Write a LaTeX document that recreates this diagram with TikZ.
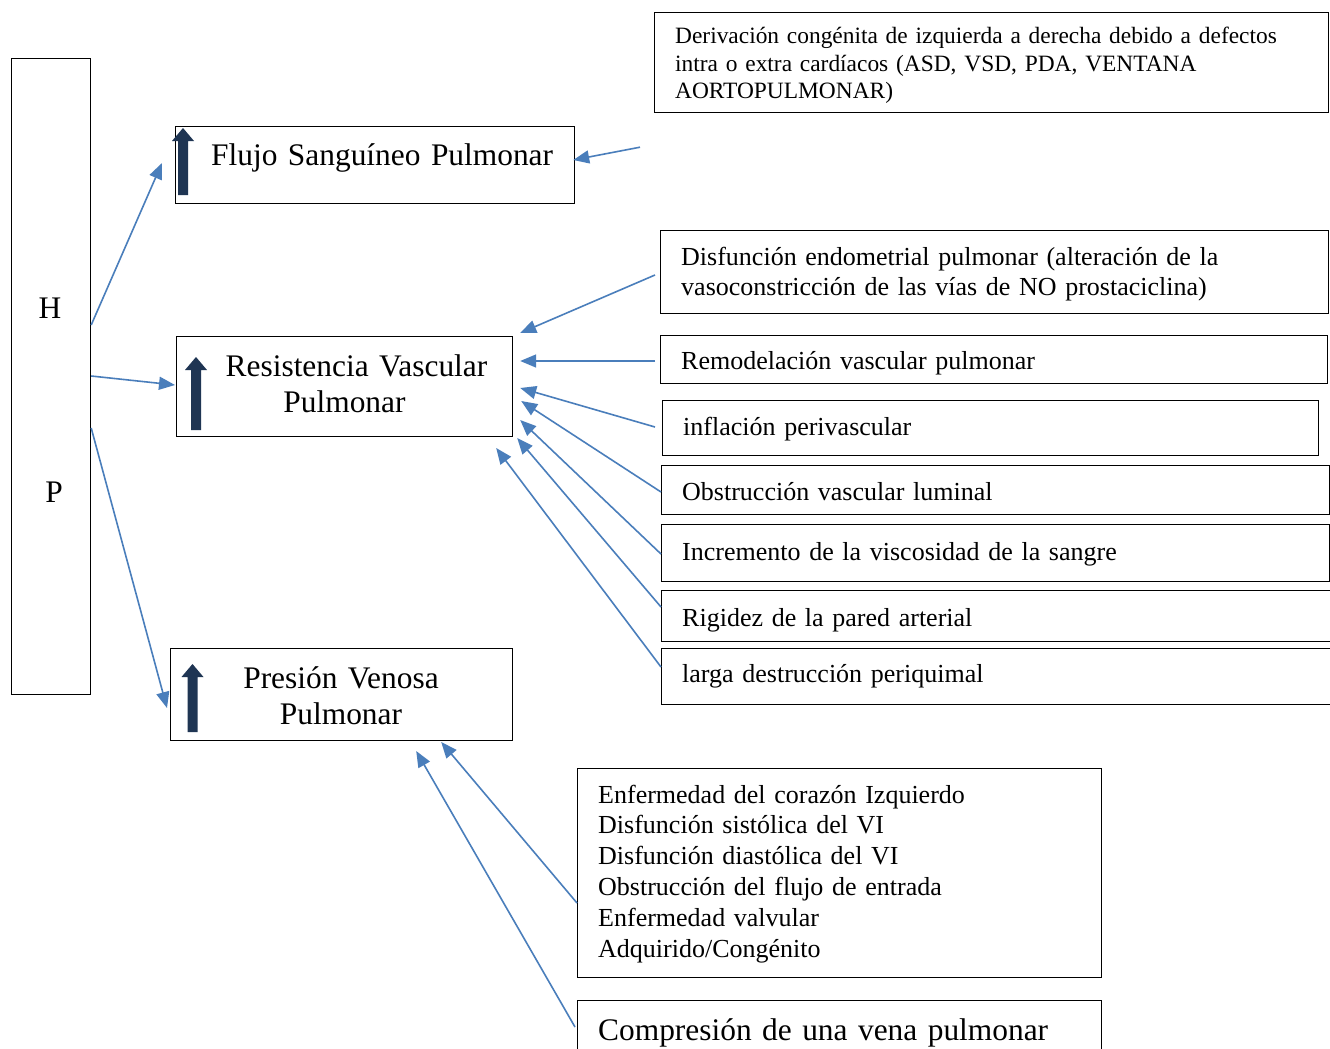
\documentclass[tikz,border=0pt]{standalone}
\usepackage{fontspec}
\setmainfont{Liberation Serif}
\usetikzlibrary{arrows.meta,calc}
\definecolor{conblue}{HTML}{4A7EBB}
\definecolor{navyarr}{HTML}{1F3553}
\newcommand\bigup[3]{\fill[navyarr] (#1-5,#2) -- (#1-5,#3+13) -- (#1-11,#3+13) -- (#1,#3) -- (#1+11,#3+13) -- (#1+5,#3+13) -- (#1+5,#2) -- cycle;}
\newcommand\fbigfont{\fontsize{31.4}{36}\selectfont}
\newcommand\fmidfont{\fontsize{26}{30.8}\selectfont}
\newcommand\fsmlfont{\fontsize{23.4}{27.5}\selectfont}
\begin{document}
\begin{tikzpicture}[x=1pt,y=-1pt,
  box/.style={draw=black,line width=1.2pt,rectangle,inner sep=0pt,anchor=north west},
  txt/.style={inner sep=0pt,anchor=base west,align=left},
  ctxt/.style={inner sep=0pt,anchor=base,align=center},
  fbig/.style={font=\fbigfont},
  fmid/.style={font=\fmidfont},
  fsml/.style={font=\fsmlfont},
  conn/.style={draw=conblue,line width=1.6pt,-{Triangle[length=16pt,width=13pt]}}]
\useasboundingbox (0,0) rectangle (1330,1049);
\fill[white] (0,0) rectangle (1330,1049);

% boxes
\node[box,minimum width=79pt,minimum height=636pt] (hp) at (11,58) {};
\node[box,minimum width=399pt,minimum height=77pt] (flujo) at (175,126) {};
\node[box,minimum width=336pt,minimum height=100pt] (res) at (176,336) {};
\node[box,minimum width=342pt,minimum height=92pt] (pres) at (170,648) {};
\node[box,minimum width=674pt,minimum height=100pt] (der) at (654,12) {};
\node[box,minimum width=668pt,minimum height=83pt] (dis) at (660,230) {};
\node[box,minimum width=667pt,minimum height=48pt] (rem) at (660,335) {};
\node[box,minimum width=656pt,minimum height=55pt] (inf) at (662,400) {};
\node[box,minimum width=668pt,minimum height=49pt] (obs) at (661,465) {};
\node[box,minimum width=668pt,minimum height=57pt] (inc) at (661,524) {};
\node[box,minimum width=690pt,minimum height=51pt] (rig) at (661,590) {};
\node[box,minimum width=690pt,minimum height=56pt] (larga) at (661,648) {};
\node[box,minimum width=524pt,minimum height=209pt] (enf) at (577,768) {};
\node[box,minimum width=524pt,minimum height=70pt] (comp) at (577,1000) {};

% texts
\node[fbig,inner sep=0pt] (hT) at (50,308) {H};
\node[fbig,inner sep=0pt] (pT) at (54,492) {P};
\node[txt,fbig,text width=360pt] (flujoT) at (211,165) {Flujo Sanguíneo Pulmonar};
\node[ctxt,fbig,text width=320pt] (resT) at (356.5,376) {Resistencia Vascular\\\hspace*{-24pt}Pulmonar};
\node[ctxt,fbig,text width=320pt] (presT) at (341,688) {Presión Venosa\\Pulmonar};
\node[txt,fsml,text width=650pt] (derT) at (675,44) {Derivación congénita de izquierda a derecha debido a defectos\\intra o extra cardíacos (ASD, VSD, PDA, VENTANA\\AORTOPULMONAR)};
\node[txt,fmid,text width=640pt] (disT) at (681,265) {Disfunción endometrial pulmonar (alteración de la\\vasoconstricción de las vías de NO prostaciclina)};
\node[txt,fmid,text width=640pt] (remT) at (681,369) {Remodelación vascular pulmonar};
\node[txt,fmid,text width=630pt] (infT) at (683,435) {inflación perivascular};
\node[txt,fmid,text width=640pt] (obsT) at (682,500) {Obstrucción vascular luminal};
\node[txt,fmid,text width=640pt] (incT) at (682,560) {Incremento de la viscosidad de la sangre};
\node[txt,fmid,text width=640pt] (rigT) at (682,626) {Rigidez de la pared arterial};
\node[txt,fmid,text width=640pt] (largaT) at (682,682) {larga destrucción periquimal};
\node[txt,fmid,text width=500pt] (enfT) at (598,803) {Enfermedad del corazón Izquierdo\\Disfunción sistólica del VI\\Disfunción diastólica del VI\\Obstrucción del flujo de entrada\\Enfermedad valvular\\Adquirido/Congénito};
\node[txt,fbig,text width=500pt] (compT) at (598,1040) {Compresión de una vena pulmonar};

% thick up arrows
\bigup{183}{195}{128}
\bigup{196}{430}{357}
\bigup{192.5}{732}{664}

% connectors
\draw[conn] ($(hp.north east)+(0,267)$) -- ($(flujo.north west)+(-13,37)$);
\draw[conn] ($(hp.north east)+(0,318)$) -- ($(res.north west)+(-1,49)$);
\draw[conn] ($(hp.north east)+(0,370)$) -- ($(pres.north west)+(-3,60)$);
\draw[conn] ($(der.south west)+(-14,34)$) -- ($(flujo.north east)+(-2,34)$);
\draw[conn] ($(dis.north west)+(-5,45)$) -- ($(res.north east)+(7,-3)$);
\draw[conn] ($(rem.north west)+(-5,26)$) -- ($(res.north east)+(7,25)$);
\draw[conn] ($(inf.north west)+(-7,27)$) -- ($(res.north east)+(7,52)$);
\draw[conn] ($(obs.north west)+(0,27)$) -- ($(res.north east)+(8,65)$);
\draw[conn] ($(inc.north west)+(0,30)$) -- ($(res.north east)+(7,84)$);
\draw[conn] ($(rig.north west)+(0,17)$) -- ($(res.north east)+(4,102)$);
\draw[conn] ($(larga.north west)+(0,19)$) -- ($(res.north east)+(-17,112)$);
\draw[conn] ($(enf.north west)+(0,135)$) -- ($(pres.north east)+(-72,94)$);
\draw[conn] ($(comp.north west)+(-2,27)$) -- ($(pres.north east)+(-97,103)$);
\end{tikzpicture}
\end{document}
